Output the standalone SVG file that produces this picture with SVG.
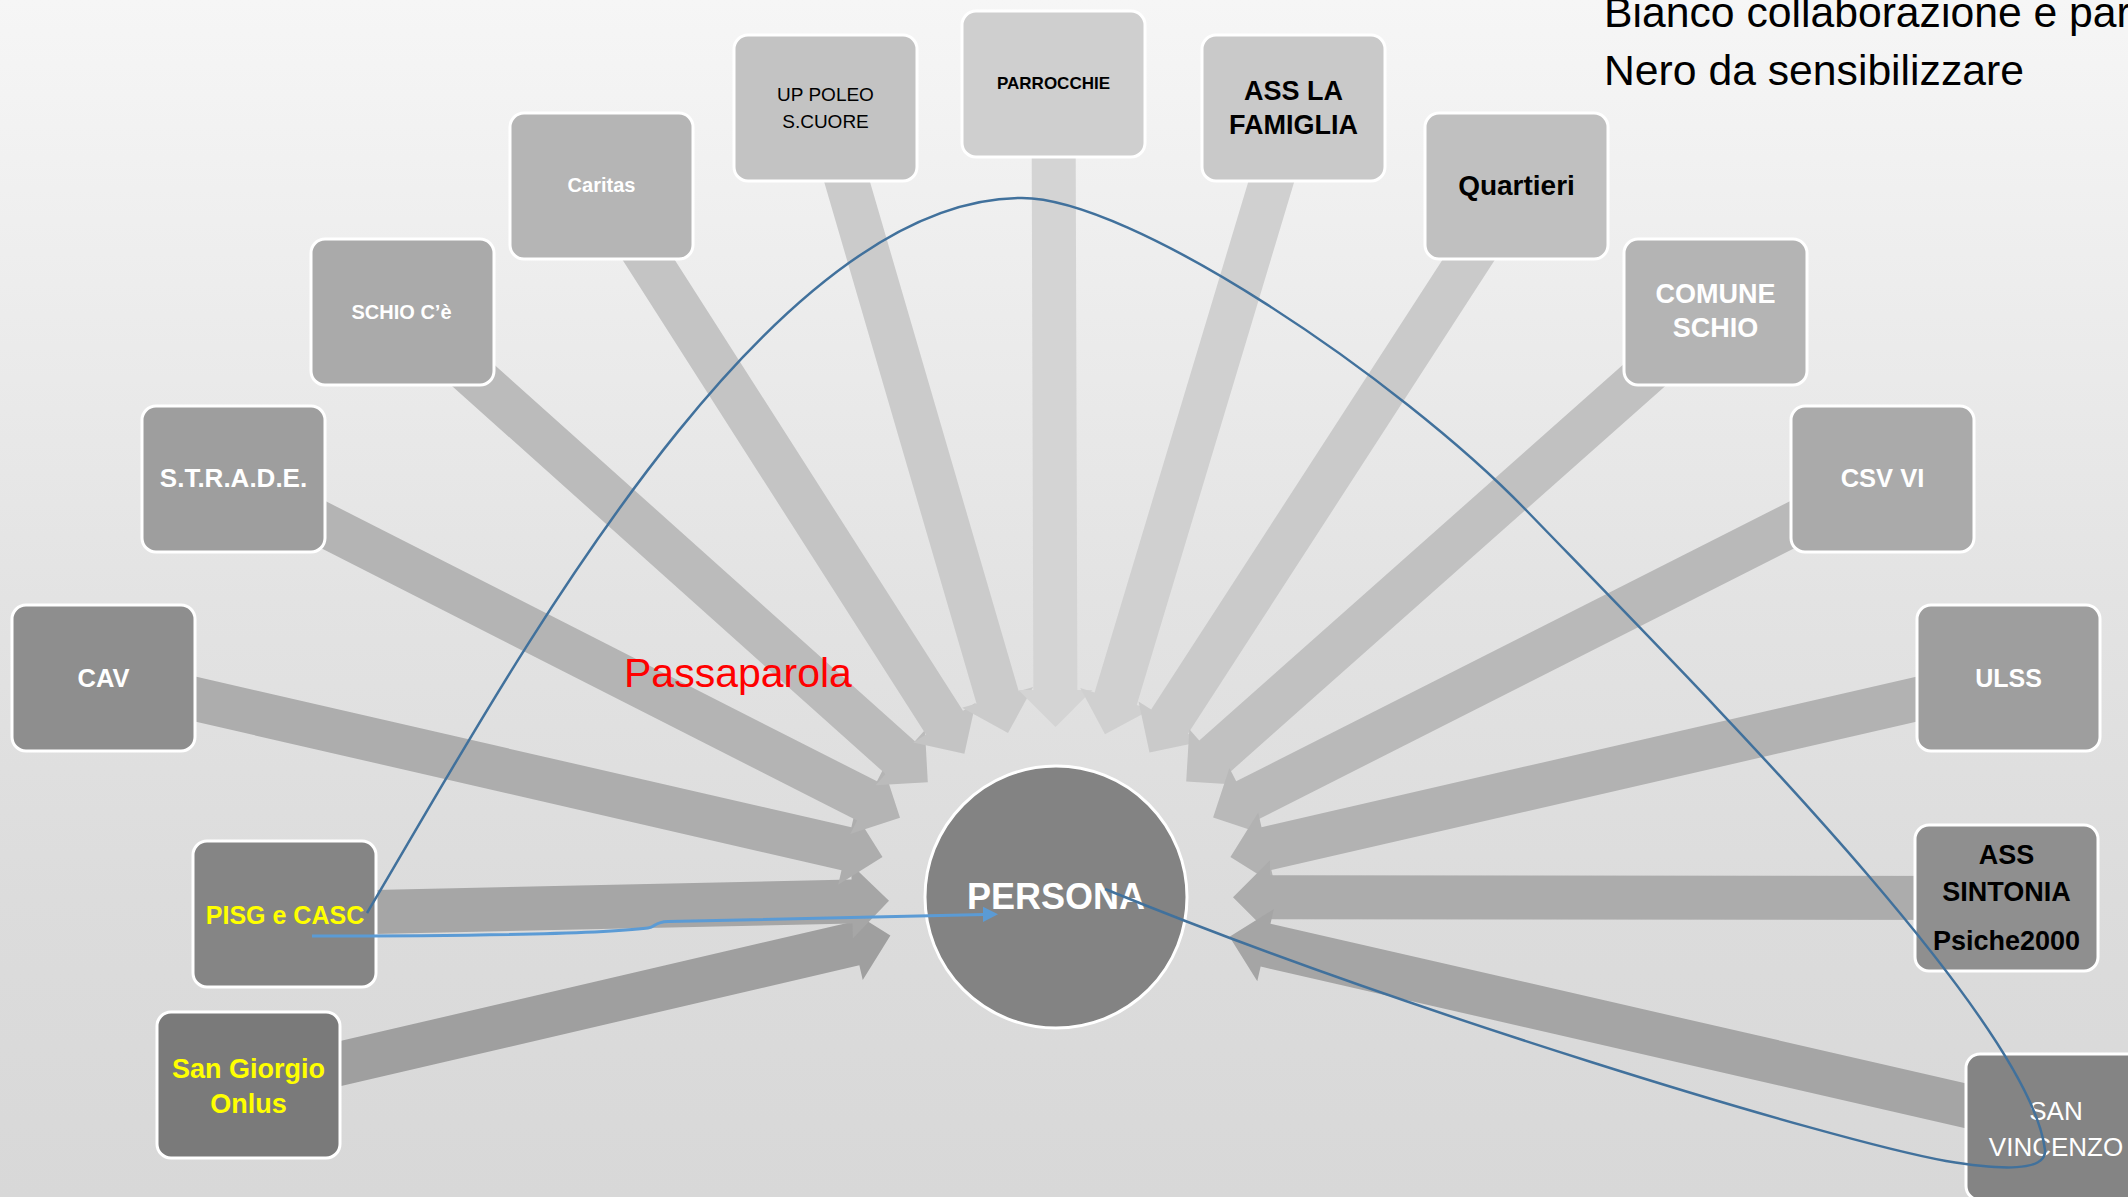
<svg xmlns="http://www.w3.org/2000/svg" width="2128" height="1197" viewBox="0 0 2128 1197">
  <defs>
    <linearGradient id="bg" x1="0" y1="0" x2="0" y2="1">
      <stop offset="0" stop-color="#f6f6f6"/>
      <stop offset="0.5" stop-color="#e3e3e3"/>
      <stop offset="0.75" stop-color="#dcdcdc"/>
      <stop offset="1" stop-color="#d8d8d8"/>
    </linearGradient>
    <style>
      .box{stroke:#ffffff;stroke-width:3}
      .t{font-family:"Liberation Sans",Arial,sans-serif;text-anchor:middle}
      .b{font-weight:bold}
      .w{fill:#ffffff}
      .k{fill:#000000}
      .y{fill:#ffff00}
      .curve{fill:none;stroke:#41719c;stroke-width:2.5}
      .link{fill:none;stroke:#5b9bd5;stroke-width:3}
    </style>
  </defs>

  <!-- slide background -->
  <rect width="2128" height="1197" fill="url(#bg)"/>

  <!-- block arrows converging on the centre; each polygon has its tip at the origin -->
  <g id="connectors">
    <polygon transform="translate(890.4 935.5) rotate(-13.11)" points="-659,-22 -37,-22 -37,-37 0,0 -37,37 -37,22 -659,22" fill="#9f9f9f"/>
    <polygon transform="translate(889 900.7) rotate(-1.26)" points="-605,-22 -37,-22 -37,-37 0,0 -37,37 -37,22 -605,22" fill="#a6a6a6"/>
    <polygon transform="translate(882.5 857.1) rotate(12.95)" points="-799,-22 -37,-22 -37,-37 0,0 -37,37 -37,22 -799,22" fill="#adadad"/>
    <polygon transform="translate(900 817.7) rotate(26.94)" points="-748,-22 -37,-22 -37,-37 0,0 -37,37 -37,22 -748,22" fill="#b4b4b4"/>
    <polygon transform="translate(927.8 782.3) rotate(41.83)" points="-705,-22 -37,-22 -37,-37 0,0 -37,37 -37,22 -705,22" fill="#bbbbbb"/>
    <polygon transform="translate(964.4 753.8) rotate(57.41)" points="-674,-22 -37,-22 -37,-37 0,0 -37,37 -37,22 -674,22" fill="#c4c4c4"/>
    <polygon transform="translate(1008 732.9) rotate(73.72)" points="-651,-22 -37,-22 -37,-37 0,0 -37,37 -37,22 -651,22" fill="#cbcbcb"/>
    <polygon transform="translate(1055.5 727) rotate(89.82)" points="-643,-22 -37,-22 -37,-37 0,0 -37,37 -37,22 -643,22" fill="#d4d4d4"/>
    <polygon transform="translate(1105 734.2) rotate(106.75)" points="-654,-22 -37,-22 -37,-37 0,0 -37,37 -37,22 -654,22" fill="#d0d0d0"/>
    <polygon transform="translate(1149.5 752.6) rotate(122.93)" points="-675,-22 -37,-22 -37,-37 0,0 -37,37 -37,22 -675,22" fill="#cacaca"/>
    <polygon transform="translate(1186.2 781.5) rotate(138.43)" points="-708,-22 -37,-22 -37,-37 0,0 -37,37 -37,22 -708,22" fill="#c1c1c1"/>
    <polygon transform="translate(1213.1 817.6) rotate(153.17)" points="-750,-22 -37,-22 -37,-37 0,0 -37,37 -37,22 -750,22" fill="#b9b9b9"/>
    <polygon transform="translate(1230.4 856.9) rotate(167.05)" points="-798,-22 -37,-22 -37,-37 0,0 -37,37 -37,22 -798,22" fill="#b2b2b2"/>
    <polygon transform="translate(1233 897.2) rotate(180.06)" points="-773,-22 -37,-22 -37,-37 0,0 -37,37 -37,22 -773,22" fill="#acacac"/>
    <polygon transform="translate(1229.5 936.8) rotate(192.93)" points="-850,-22 -37,-22 -37,-37 0,0 -37,37 -37,22 -850,22" fill="#a5a5a5"/>
  </g>

  <!-- outer nodes -->
  <g id="n-parrocchie">
    <rect class="box" x="962" y="11" width="183" height="146" rx="14" fill="#cfcfcf"/>
    <text class="t b k" x="1053.5" y="89" font-size="17">PARROCCHIE</text>
  </g>
  <g id="n-up-poleo">
    <rect class="box" x="734" y="35" width="183" height="146" rx="14" fill="#c3c3c3"/>
    <text class="t k" x="825.5" y="101" font-size="19">UP POLEO</text>
    <text class="t k" x="825.5" y="128" font-size="19">S.CUORE</text>
  </g>
  <g id="n-ass-la-famiglia">
    <rect class="box" x="1202" y="35" width="183" height="146" rx="14" fill="#c9c9c9"/>
    <text class="t b k" x="1293.5" y="99.5" font-size="27">ASS LA</text>
    <text class="t b k" x="1293.5" y="134" font-size="27">FAMIGLIA</text>
  </g>
  <g id="n-caritas">
    <rect class="box" x="510" y="113" width="183" height="146" rx="14" fill="#b5b5b5"/>
    <text class="t b w" x="601.5" y="192" font-size="20">Caritas</text>
  </g>
  <g id="n-quartieri">
    <rect class="box" x="1425" y="113" width="183" height="146" rx="14" fill="#c0c0c0"/>
    <text class="t b k" x="1516.5" y="195" font-size="28">Quartieri</text>
  </g>
  <g id="n-schio-ce">
    <rect class="box" x="311" y="239" width="183" height="146" rx="14" fill="#aaaaaa"/>
    <text class="t b w" x="401.5" y="319" font-size="20">SCHIO C’è</text>
  </g>
  <g id="n-comune-schio">
    <rect class="box" x="1624" y="239" width="183" height="146" rx="14" fill="#b4b4b4"/>
    <text class="t b w" x="1715.5" y="303" font-size="27">COMUNE</text>
    <text class="t b w" x="1715.5" y="337" font-size="27">SCHIO</text>
  </g>
  <g id="n-strade">
    <rect class="box" x="142" y="406" width="183" height="146" rx="14" fill="#9e9e9e"/>
    <text class="t b w" x="233.5" y="487" font-size="26">S.T.R.A.D.E.</text>
  </g>
  <g id="n-csv-vi">
    <rect class="box" x="1791" y="406" width="183" height="146" rx="14" fill="#aaaaaa"/>
    <text class="t b w" x="1882.5" y="487" font-size="25.5">CSV VI</text>
  </g>
  <g id="n-cav">
    <rect class="box" x="12" y="605" width="183" height="146" rx="14" fill="#8e8e8e"/>
    <text class="t b w" x="103.5" y="687" font-size="25.5">CAV</text>
  </g>
  <g id="n-ulss">
    <rect class="box" x="1917" y="605" width="183" height="146" rx="14" fill="#9e9e9e"/>
    <text class="t b w" x="2008.5" y="687" font-size="25">ULSS</text>
  </g>
  <g id="n-pisg-casc">
    <rect class="box" x="193" y="841" width="183" height="146" rx="14" fill="#858585"/>
    <text class="t b y" x="285" y="924" font-size="25">PISG e CASC</text>
  </g>
  <g id="n-ass-sintonia">
    <rect class="box" x="1915" y="825" width="183" height="146" rx="14" fill="#8f8f8f"/>
    <text class="t b k" x="2006.5" y="864" font-size="27">ASS</text>
    <text class="t b k" x="2006.5" y="901" font-size="27">SINTONIA</text>
    <text class="t b k" x="2006.5" y="950" font-size="27">Psiche2000</text>
  </g>
  <g id="n-san-giorgio">
    <rect class="box" x="157" y="1012" width="183" height="146" rx="14" fill="#7a7a7a"/>
    <text class="t b y" x="248.5" y="1078" font-size="27">San Giorgio</text>
    <text class="t b y" x="248.5" y="1113" font-size="27">Onlus</text>
  </g>
  <g id="n-san-vincenzo">
    <rect class="box" x="1966" y="1054" width="183" height="146" rx="14" fill="#848484"/>
    <text class="t w" x="2056" y="1120" font-size="26">SAN</text>
    <text class="t w" x="2056" y="1155.5" font-size="26">VINCENZO</text>
  </g>

  <!-- centre node -->
  <g id="n-persona">
    <circle cx="1056" cy="897" r="131" fill="#838383" stroke="#ffffff" stroke-width="3"/>
    <text class="t b w" x="1056" y="909" font-size="36">PERSONA</text>
  </g>

  <!-- free labels -->
  <g id="labels">
    <text x="624" y="687" font-family="'Liberation Sans',Arial,sans-serif" font-size="41" fill="#ff0000">Passaparola</text>
    <text x="1604" y="27" font-family="'Liberation Sans',Arial,sans-serif" font-size="42.7" fill="#000000">Bianco collaborazione e par</text>
    <text x="1604" y="85" font-family="'Liberation Sans',Arial,sans-serif" font-size="42.7" fill="#000000">Nero da sensibilizzare</text>
  </g>

  <!-- hand-drawn word-of-mouth paths -->
  <g id="links">
    <path class="curve" d="M367,913 C500,690 760,200 1020,198 C1130,196 1400,380 1525,509 C1700,690 2030,1020 2045,1150 C2047,1172 2000,1170 1946,1161 C1830,1140 1400,1010 1105,889"/>
    <path class="link" d="M312,936 C450,936 600,934 648,928 C656,927 654,922 668,921.5 L985,914.5"/>
    <polygon points="998,914.3 983,906.8 983,922" fill="#5b9bd5"/>
  </g>
</svg>
